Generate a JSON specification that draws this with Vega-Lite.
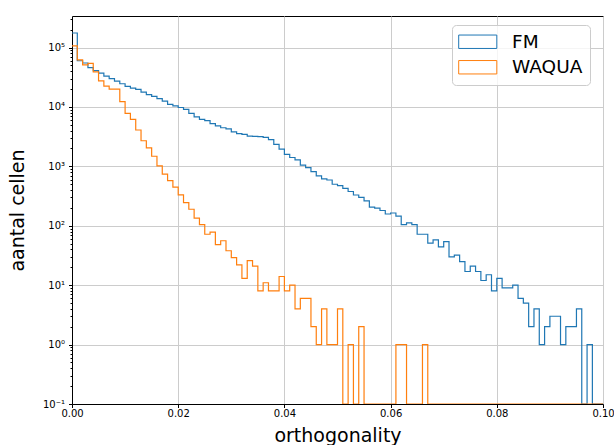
{
  "$schema": "https://vega.github.io/schema/vega-lite/v6.json",
  "width": 531,
  "height": 388,
  "autosize": "none",
  "padding": {"left": 72, "top": 16, "right": 11, "bottom": 41},
  "background": "white",
  "config": {
    "font": "DejaVu Sans",
    "view": {"stroke": "black", "strokeWidth": 1},
    "axis": {
      "domainColor": "black",
      "tickColor": "black",
      "labelColor": "black",
      "titleColor": "black",
      "gridColor": "#cccccc",
      "gridWidth": 1,
      "labelFontSize": 10,
      "titleFontSize": 19,
      "titleFontWeight": "normal",
      "zindex": 1
    }
  },
  "data": {
    "values": [
      {"o": 0.000, "FM": 176000, "WAQUA": 107000},
      {"o": 0.001, "FM": 60000, "WAQUA": 62000},
      {"o": 0.002, "FM": 55000, "WAQUA": 51000},
      {"o": 0.003, "FM": 46000, "WAQUA": 54000},
      {"o": 0.004, "FM": 41000, "WAQUA": 39000},
      {"o": 0.005, "FM": 37000, "WAQUA": 27500},
      {"o": 0.006, "FM": 33000, "WAQUA": 22400},
      {"o": 0.007, "FM": 30000, "WAQUA": 20000},
      {"o": 0.008, "FM": 27300, "WAQUA": 20000},
      {"o": 0.009, "FM": 24600, "WAQUA": 12300},
      {"o": 0.010, "FM": 22300, "WAQUA": 7800},
      {"o": 0.011, "FM": 20800, "WAQUA": 6200},
      {"o": 0.012, "FM": 19800, "WAQUA": 4100},
      {"o": 0.013, "FM": 17800, "WAQUA": 2700},
      {"o": 0.014, "FM": 16200, "WAQUA": 2050},
      {"o": 0.015, "FM": 15100, "WAQUA": 1480},
      {"o": 0.016, "FM": 13800, "WAQUA": 1020},
      {"o": 0.017, "FM": 12500, "WAQUA": 740},
      {"o": 0.018, "FM": 11100, "WAQUA": 575},
      {"o": 0.019, "FM": 10400, "WAQUA": 447},
      {"o": 0.020, "FM": 9800, "WAQUA": 331},
      {"o": 0.021, "FM": 9100, "WAQUA": 245},
      {"o": 0.022, "FM": 7800, "WAQUA": 190},
      {"o": 0.023, "FM": 6800, "WAQUA": 135},
      {"o": 0.024, "FM": 6200, "WAQUA": 105},
      {"o": 0.025, "FM": 5900, "WAQUA": 72},
      {"o": 0.026, "FM": 5250, "WAQUA": 78},
      {"o": 0.027, "FM": 4800, "WAQUA": 48},
      {"o": 0.028, "FM": 4470, "WAQUA": 56},
      {"o": 0.029, "FM": 4270, "WAQUA": 38},
      {"o": 0.030, "FM": 3800, "WAQUA": 29},
      {"o": 0.031, "FM": 3550, "WAQUA": 22},
      {"o": 0.032, "FM": 3470, "WAQUA": 13},
      {"o": 0.033, "FM": 3240, "WAQUA": 26},
      {"o": 0.034, "FM": 3200, "WAQUA": 21},
      {"o": 0.035, "FM": 3160, "WAQUA": 8},
      {"o": 0.036, "FM": 3090, "WAQUA": 11},
      {"o": 0.037, "FM": 2820, "WAQUA": 8},
      {"o": 0.038, "FM": 2340, "WAQUA": 8},
      {"o": 0.039, "FM": 1950, "WAQUA": 14},
      {"o": 0.040, "FM": 1590, "WAQUA": 8},
      {"o": 0.041, "FM": 1410, "WAQUA": 10},
      {"o": 0.042, "FM": 1290, "WAQUA": 4},
      {"o": 0.043, "FM": 1050, "WAQUA": 6},
      {"o": 0.044, "FM": 955, "WAQUA": 6},
      {"o": 0.045, "FM": 815, "WAQUA": 2},
      {"o": 0.046, "FM": 690, "WAQUA": 1},
      {"o": 0.047, "FM": 615, "WAQUA": 4},
      {"o": 0.048, "FM": 590, "WAQUA": 1},
      {"o": 0.049, "FM": 500, "WAQUA": 1},
      {"o": 0.050, "FM": 475, "WAQUA": 4},
      {"o": 0.051, "FM": 428, "WAQUA": 0},
      {"o": 0.052, "FM": 378, "WAQUA": 1},
      {"o": 0.053, "FM": 330, "WAQUA": 0},
      {"o": 0.054, "FM": 300, "WAQUA": 2},
      {"o": 0.055, "FM": 263, "WAQUA": 0},
      {"o": 0.056, "FM": 206, "WAQUA": 0},
      {"o": 0.057, "FM": 198, "WAQUA": 0},
      {"o": 0.058, "FM": 181, "WAQUA": 0},
      {"o": 0.059, "FM": 158, "WAQUA": 0},
      {"o": 0.060, "FM": 164, "WAQUA": 0},
      {"o": 0.061, "FM": 145, "WAQUA": 1},
      {"o": 0.062, "FM": 105, "WAQUA": 1},
      {"o": 0.063, "FM": 112, "WAQUA": 0},
      {"o": 0.064, "FM": 105, "WAQUA": 0},
      {"o": 0.065, "FM": 72, "WAQUA": 0},
      {"o": 0.066, "FM": 72, "WAQUA": 1},
      {"o": 0.067, "FM": 51, "WAQUA": 0},
      {"o": 0.068, "FM": 58, "WAQUA": 0},
      {"o": 0.069, "FM": 44, "WAQUA": 0},
      {"o": 0.070, "FM": 54, "WAQUA": 0},
      {"o": 0.071, "FM": 30, "WAQUA": 0},
      {"o": 0.072, "FM": 32, "WAQUA": 0},
      {"o": 0.073, "FM": 25, "WAQUA": 0},
      {"o": 0.074, "FM": 17, "WAQUA": 0},
      {"o": 0.075, "FM": 21, "WAQUA": 0},
      {"o": 0.076, "FM": 17, "WAQUA": 0},
      {"o": 0.077, "FM": 12, "WAQUA": 0},
      {"o": 0.078, "FM": 15, "WAQUA": 0},
      {"o": 0.079, "FM": 8, "WAQUA": 0},
      {"o": 0.080, "FM": 13, "WAQUA": 0},
      {"o": 0.081, "FM": 9, "WAQUA": 0},
      {"o": 0.082, "FM": 9, "WAQUA": 0},
      {"o": 0.083, "FM": 10, "WAQUA": 0},
      {"o": 0.084, "FM": 6, "WAQUA": 0},
      {"o": 0.085, "FM": 5, "WAQUA": 0},
      {"o": 0.086, "FM": 2, "WAQUA": 0},
      {"o": 0.087, "FM": 4, "WAQUA": 0},
      {"o": 0.088, "FM": 1, "WAQUA": 0},
      {"o": 0.089, "FM": 2, "WAQUA": 0},
      {"o": 0.090, "FM": 3, "WAQUA": 0},
      {"o": 0.091, "FM": 3, "WAQUA": 0},
      {"o": 0.092, "FM": 1, "WAQUA": 0},
      {"o": 0.093, "FM": 2, "WAQUA": 0},
      {"o": 0.094, "FM": 2, "WAQUA": 0},
      {"o": 0.095, "FM": 4, "WAQUA": 0},
      {"o": 0.096, "FM": 0, "WAQUA": 0},
      {"o": 0.097, "FM": 1, "WAQUA": 0},
      {"o": 0.098, "FM": 0, "WAQUA": 0},
      {"o": 0.099, "FM": 0, "WAQUA": 0},
      {"o": 0.100, "FM": 0, "WAQUA": 0}
    ]
  },
  "transform": [{"fold": ["FM", "WAQUA"], "as": ["s", "n"]}],
  "mark": {"type": "line", "interpolate": "step-after", "strokeWidth": 1.2, "invalid": "show", "clip": true},
  "encoding": {
    "x": {
      "field": "o",
      "type": "quantitative",
      "title": "orthogonality",
      "scale": {"domain": [0, 0.1], "nice": false, "zero": false},
      "axis": {
        "values": [0, 0.02, 0.04, 0.06, 0.08, 0.1],
        "format": ".2f",
        "tickSize": 3.5,
        "labelPadding": 1,
        "labelFlush": false,
        "titleY": 37,
        "titleBaseline": "alphabetic"
      }
    },
    "y": {
      "field": "n",
      "type": "quantitative",
      "title": "aantal cellen",
      "scale": {"type": "log", "domain": [0.1, 340000], "nice": false, "clamp": true},
      "axis": {
        "values": [0.1, 0.2, 0.3, 0.4, 0.5, 0.6, 0.7, 0.8, 0.9, 1, 2, 3, 4, 5, 6, 7, 8, 9, 10, 20, 30, 40, 50, 60, 70, 80, 90, 100, 200, 300, 400, 500, 600, 700, 800, 900, 1000, 2000, 3000, 4000, 5000, 6000, 7000, 8000, 9000, 10000, 20000, 30000, 40000, 50000, 60000, 70000, 80000, 90000, 100000, 200000, 300000],
        "labelExpr": "datum.value == 0.1 ? '10⁻¹' : datum.value == 1 ? '10⁰' : datum.value == 10 ? '10¹' : datum.value == 100 ? '10²' : datum.value == 1000 ? '10³' : datum.value == 10000 ? '10⁴' : datum.value == 100000 ? '10⁵' : ''",
        "labelOverlap": false,
        "tickSize": {"condition": {"test": "indexof([0.1, 1, 10, 100, 1000, 10000, 100000], datum.value) >= 0", "value": 3.5}, "value": 2},
        "gridOpacity": {"condition": {"test": "indexof([0.1, 1, 10, 100, 1000, 10000, 100000], datum.value) >= 0", "value": 1}, "value": 0},
        "labelPadding": 4,
        "titleX": -55,
        "titleY": 194,
        "titleAngle": -90,
        "titleAlign": "center",
        "titleBaseline": "middle"
      }
    },
    "color": {
      "field": "s",
      "type": "nominal",
      "scale": {"domain": ["FM", "WAQUA"], "range": ["#1f77b4", "#ff7f0e"]},
      "legend": {
        "title": null,
        "orient": "none",
        "legendX": 380,
        "legendY": 9,
        "symbolType": "M-2.84,-1H2.84V1H-2.84Z",
        "symbolSize": 180,
        "symbolOffset": 9,
        "symbolStrokeWidth": 1,
        "symbolFillColor": "transparent",
        "labelFontSize": 18.5,
        "labelOffset": 25,
        "labelColor": "black",
        "rowPadding": 6.5,
        "padding": 7.5,
        "fillColor": "rgba(255,255,255,0.8)",
        "strokeColor": "#cccccc",
        "cornerRadius": 4
      }
    }
  }
}
